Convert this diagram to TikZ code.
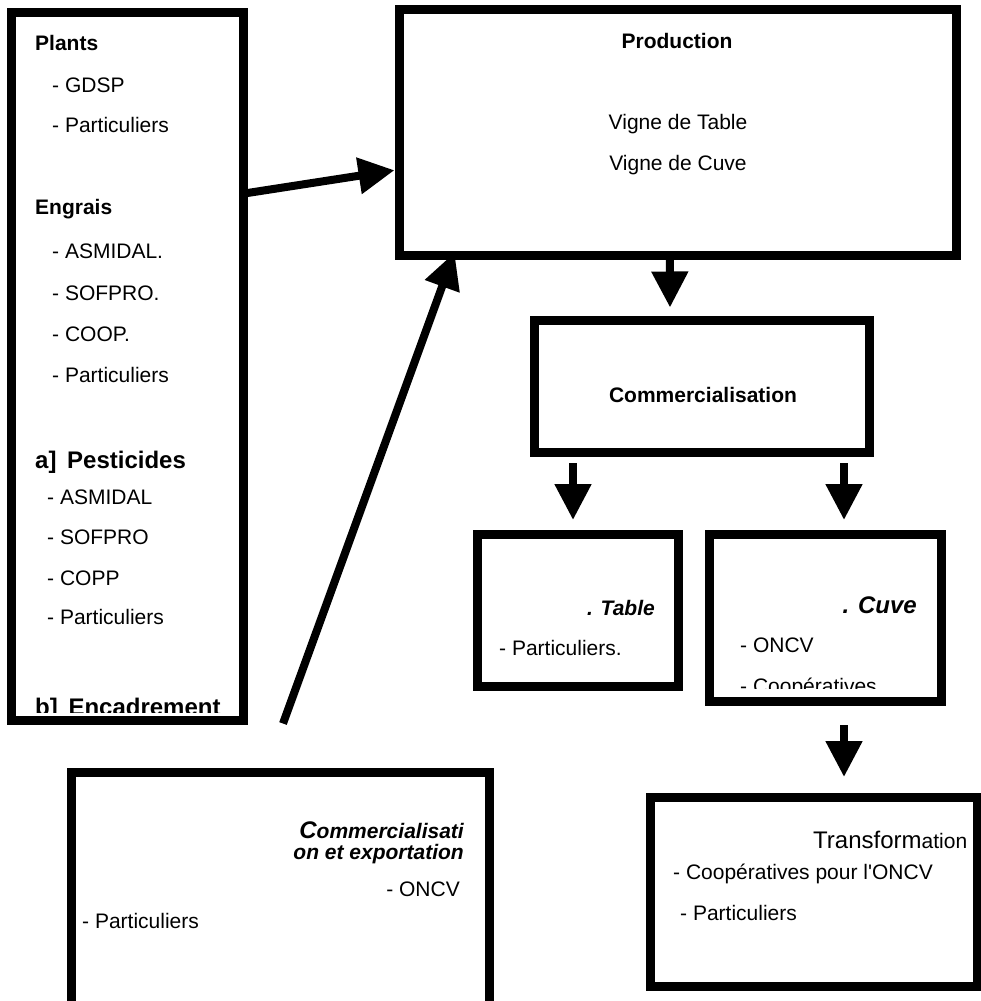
\documentclass[tikz,border=0pt]{standalone}
\usepackage{fontspec}
\setmainfont{Liberation Sans}
\newfontfamily\plainap{Liberation Sans}
\usetikzlibrary{arrows.meta}

\begin{document}
\begin{tikzpicture}[x=1pt, y=-1pt,
    box/.style={draw, line width=9pt, rectangle, inner sep=0pt},
    txt/.style={inner sep=0pt, anchor=base west, font=\fontsize{21}{25}\selectfont},
    hd/.style={txt, font=\fontsize{21}{25}\selectfont\bfseries},
    big/.style={txt, font=\fontsize{24}{28}\selectfont\bfseries},
    flow/.style={line width=8pt, -{Triangle[length=36pt, width=35pt]}}]
    \useasboundingbox (0,0) rectangle (981,1001);
    \clip (0,0) rectangle (981,1001);

    \node[box, minimum width=231.5pt, minimum height=708pt] (inp) at (127.25,366) {};
    \node[box, minimum width=557.5pt, minimum height=245.5pt] (prod) at (677.75,132.25) {};
    \node[box, minimum width=335pt, minimum height=132pt] (comm) at (701.5,386) {};
    \node[box, minimum width=201pt, minimum height=152pt] (tab) at (577.5,610) {};
    \node[box, minimum width=232pt, minimum height=167pt] (cuve) at (825,617.5) {};
    \node[box, minimum width=327pt, minimum height=189pt] (trans) at (813.5,891.5) {};
    \node[box, minimum width=418pt, minimum height=234pt] (exp) at (280,889) {};

    % intrants
    \node[hd] (plants) at (35,50) {Plants};
    \node[txt] (gdsp) at (52,92) {- GDSP};
    \node[txt] (part1) at (52,132) {- Particuliers};
    \node[hd] (engrais) at (35,214) {Engrais};
    \node[txt] (asm1) at (52,258) {- ASMIDAL.};
    \node[txt] (sof1) at (52,300) {- SOFPRO.};
    \node[txt] (coop1) at (52,341) {- COOP.};
    \node[txt] (part2) at (52,382) {- Particuliers};
    \node[big] (pest) at (35,468) {a]\, Pesticides};
    \node[txt] (asm2) at (47,504) {- ASMIDAL};
    \node[txt] (sof2) at (47,544) {- SOFPRO};
    \node[txt] (copp) at (47,585) {- COPP};
    \node[txt] (part3) at (47,624) {- Particuliers};
    \begin{scope}
        \clip (0,0) rectangle (981,712);
        \node[big] (encad) at (35,715) {b]\, Encadrement};
    \end{scope}

    % production
    \node[hd, anchor=base] (prodt) at (677,48) {Production};
    \node[txt, anchor=base] (vtab) at (678,129) {Vigne de Table};
    \node[txt, anchor=base] (vcuve) at (678,170) {Vigne de Cuve};

    \node[hd, anchor=base] (commt) at (703,402) {Commercialisation};

    \node[hd, anchor=base east, font=\fontsize{21}{25}\selectfont\bfseries\itshape] (tabt) at (655,615) {. Table};
    \node[txt] (part4) at (499,655) {- Particuliers.};

    \node[big, anchor=base east, font=\fontsize{24}{28}\selectfont\bfseries\itshape] (cuvet) at (917,613) {. Cuve};
    \node[txt] (oncv1) at (740,652) {- ONCV};
    \begin{scope}
        \clip (0,0) rectangle (981,688);
        \node[txt] (coop2) at (740,693) {- Coopératives};
    \end{scope}

    % transformation
    \node[txt] (transt) at (813,848) {{\fontsize{24}{28}\selectfont Transform}ation};
    \node[txt] (coop3) at (673,879) {- Coopératives pour l{\plainap '}ONCV};
    \node[txt] (part5) at (680,920) {- Particuliers};

    % export
    \node[txt, anchor=base east, font=\fontsize{21}{25}\selectfont\bfseries\itshape] (expt1) at (464,838) {{\fontsize{24}{28}\selectfont C}ommercialisati};
    \node[txt, anchor=base east, font=\fontsize{21}{25}\selectfont\bfseries\itshape] (expt2) at (464,859) {on et exportation};
    \node[txt, anchor=base east] (oncv2) at (460,896) {- ONCV};
    \node[txt] (part6) at (82,928) {- Particuliers};

    \draw[flow] ([yshift=173pt]inp.east) -- ([yshift=-38pt]prod.west);
    \draw[flow] ([xshift=3pt, yshift=44pt]exp.north) -- ([xshift=60pt, yshift=7pt]prod.south west);
    \draw[flow] ([xshift=-8pt]prod.south) -- ([xshift=-31.5pt, yshift=8pt]comm.north);
    \draw[flow] ([xshift=-128.5pt, yshift=-6.5pt]comm.south) -- ([xshift=-4.5pt, yshift=9.5pt]tab.north);
    \draw[flow] ([xshift=142.5pt, yshift=-6.5pt]comm.south) -- ([xshift=19pt, yshift=9.5pt]cuve.north);
    \draw[flow] ([xshift=19pt, yshift=-19.5pt]cuve.south) -- ([xshift=30.5pt, yshift=15.5pt]trans.north);
\end{tikzpicture}
\end{document}
